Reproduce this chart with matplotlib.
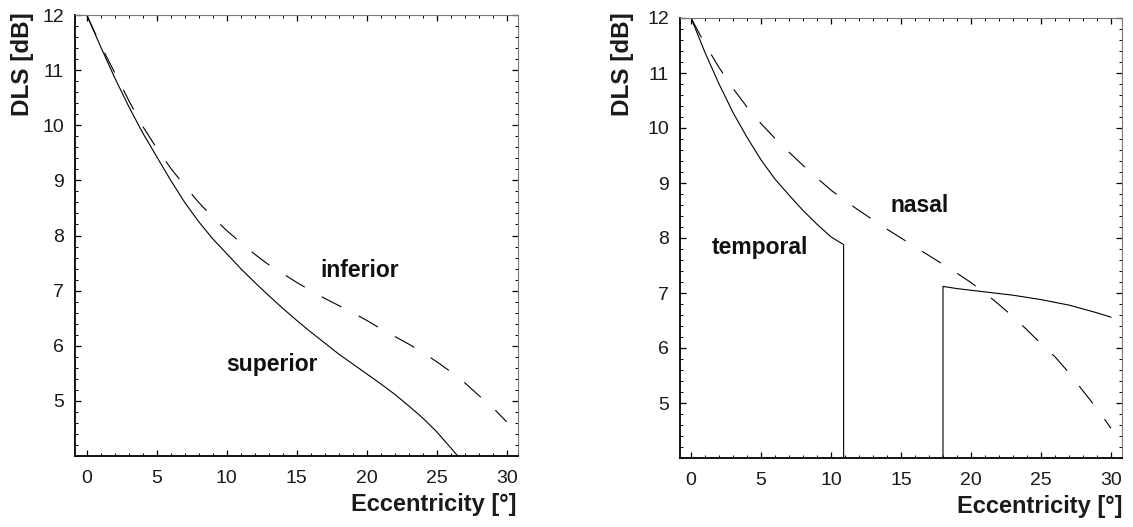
import matplotlib
matplotlib.use("Agg")
import matplotlib.pyplot as plt
from matplotlib.ticker import MultipleLocator

plt.rcParams['font.family'] = ['Liberation Sans', 'DejaVu Sans']
plt.rcParams['lines.scale_dashes'] = False

# Left panel: superior (solid) and inferior (dashed)
sup_x = [0, 1, 2, 3, 4, 5, 6, 7, 8, 9, 10, 11, 12, 13, 14, 15, 16, 17, 18, 19, 20,
         21, 22, 23, 24, 25, 26, 26.5]
sup_y = [12.0, 11.42, 10.86, 10.34, 9.86, 9.43, 9.00, 8.60, 8.25, 7.94, 7.67, 7.40, 7.15,
         6.91, 6.68, 6.46, 6.25, 6.05, 5.85, 5.67, 5.49, 5.31, 5.12, 4.91, 4.69, 4.44, 4.15, 4.0]
inf_x = [0, 1, 2, 3, 4, 5, 6, 7, 8, 9, 10, 11, 12, 13, 14, 15, 16, 17, 18, 19, 20,
         21, 22, 23, 24, 25, 26, 27, 28, 29, 30]
inf_y = [12.0, 11.45, 10.95, 10.45, 9.98, 9.58, 9.22, 8.90, 8.60, 8.33, 8.09, 7.87, 7.66,
         7.47, 7.31, 7.15, 7.00, 6.86, 6.73, 6.60, 6.46, 6.31, 6.17, 6.03, 5.88, 5.71, 5.53,
         5.33, 5.10, 4.88, 4.62]

# Right panel: temporal (solid, two pieces) and nasal (dashed)
tmp1_x = [0, 1, 2, 3, 4, 5, 6, 7, 8, 9, 10, 10.9, 10.9]
tmp1_y = [12.0, 11.37, 10.80, 10.28, 9.83, 9.42, 9.07, 8.78, 8.50, 8.25, 8.02, 7.88, 4.0]
tmp2_x = [18, 18, 19, 20, 21, 22, 23, 24, 25, 26, 27, 28, 29, 30]
tmp2_y = [4.0, 7.12, 7.08, 7.05, 7.02, 6.99, 6.96, 6.92, 6.88, 6.83, 6.78, 6.71, 6.64, 6.56]
nas_x = [0, 1, 2, 3, 4, 5, 6, 7, 8, 9, 10, 11, 12, 13, 14, 15, 16, 17, 18, 19, 20,
         21, 22, 23, 24, 25, 26, 27, 28, 29, 30]
nas_y = [12.0, 11.52, 11.10, 10.72, 10.38, 10.08, 9.81, 9.56, 9.32, 9.09, 8.87, 8.68, 8.50,
         8.33, 8.16, 8.00, 7.84, 7.68, 7.52, 7.36, 7.19, 7.00, 6.79, 6.57, 6.33, 6.08, 5.84,
         5.55, 5.22, 4.90, 4.54]

xticks = [0, 5, 10, 15, 20, 25, 30]
yticks = [5, 6, 7, 8, 9, 10, 11, 12]
xlabel = "Eccentricity [°]"
ylabel = "DLS [dB]"

fig = plt.figure(figsize=(11.33, 5.27), dpi=100)
axL = fig.add_axes([75/1133, 1-456/527, 443/1133, 441/527])
axR = fig.add_axes([680/1133, 1-458/527, 442/1133, 440/527])

dash = (0, (16, 14))
axL.plot(sup_x, sup_y, color='black', lw=0.8)
axL.plot(inf_x, inf_y, color='black', lw=0.8, linestyle=dash)
axL.text(19.5, 7.37, "inferior", fontsize=16.5, fontweight='bold', ha='center', va='center', color='#111')
axL.text(13.2, 5.66, "superior", fontsize=16.5, fontweight='bold', ha='center', va='center', color='#111')

axR.plot(tmp1_x, tmp1_y, color='black', lw=0.8)
axR.plot(tmp2_x, tmp2_y, color='black', lw=0.8)
axR.plot(nas_x, nas_y, color='black', lw=0.8, linestyle=dash)
axR.text(16.3, 8.6, "nasal", fontsize=16.5, fontweight='bold', ha='center', va='center', color='#111')
axR.text(4.93, 7.82, "temporal", fontsize=16.5, fontweight='bold', ha='center', va='center', color='#111')

for ax, xl, yl in [(axL, (-0.84, 30.81), (4.0, 12.0)), (axR, (-0.79, 30.79), (4.0, 12.0))]:
    ax.set_xlim(*xl)
    ax.set_ylim(*yl)
    ax.set_xticks(xticks)
    ax.set_yticks(yticks)
    ax.xaxis.set_minor_locator(MultipleLocator(1))
    ax.yaxis.set_minor_locator(MultipleLocator(0.2))
    ax.tick_params(which='both', direction='in', top=True, right=True, colors='black',
                   labelsize=14, labelcolor='#1a1a1a')
    ax.tick_params(which='major', length=4.5, width=0.9)
    ax.tick_params(which='minor', length=2.5, width=0.7)
    ax.tick_params(axis='x', which='major', pad=10)
    ax.tick_params(axis='y', which='major', pad=8)
    ax.spines['left'].set_linewidth(1.3)
    ax.spines['bottom'].set_linewidth(1.3)
    for s in ('top', 'right'):
        ax.spines[s].set_linewidth(0.8)
        ax.spines[s].set_color('#777777')

axL.text(-0.1196, 1.0068, ylabel, transform=axL.transAxes, rotation=90, ha='center', va='top',
         fontsize=17.5, fontweight='bold', color='#1a1a1a')
axR.text(-0.129, 1.0136, ylabel, transform=axR.transAxes, rotation=90, ha='center', va='top',
         fontsize=17.5, fontweight='bold', color='#1a1a1a')
axL.text(0.9955, -0.111, xlabel, transform=axL.transAxes, ha='right', va='center',
         fontsize=17, fontweight='bold', color='#1a1a1a')
axR.text(1.002, -0.111, xlabel, transform=axR.transAxes, ha='right', va='center',
         fontsize=17, fontweight='bold', color='#1a1a1a')

fig.savefig("out.png", dpi=100)
